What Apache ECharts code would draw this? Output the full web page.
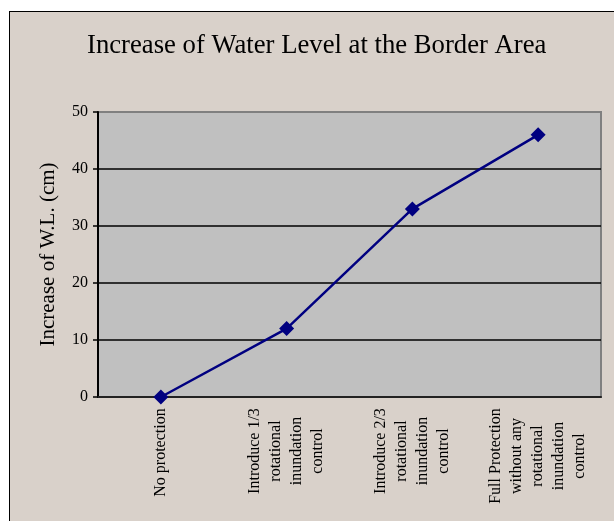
<!DOCTYPE html>
<html>
<head>
<meta charset="utf-8">
<script src="https://cdn.jsdelivr.net/npm/echarts@6/dist/echarts.min.js"></script>
<style>
  html, body { margin: 0; padding: 0; background: #ffffff; }
  #frame { position: absolute; left: 9px; top: 11px; width: 700px; height: 600px; background: #d9d1ca; border: 1px solid #000; }
  #chart { position: absolute; left: 0; top: 0; width: 614px; height: 521px; }
</style>
</head>
<body>
<div id="frame"></div>
<div id="chart"></div>
<script>
const titleText = 'Increase of Water Level at the Border Area';
const yAxisName = 'Increase of W.L. (cm)';
const categories = [
  'No protection',
  'Introduce 1/3\nrotational\ninundation\ncontrol',
  'Introduce 2/3\nrotational\ninundation\ncontrol',
  'Full Protection\nwithout any\nrotational\ninundation\ncontrol'
];
const increaseWL = [0, 12, 33, 46];
const yTicks = [0, 10, 20, 30, 40, 50];

const FONT = "'Liberation Serif', 'Times New Roman', serif";
const cvs = document.createElement('canvas').getContext('2d');
cvs.font = "16px 'Liberation Serif'";
const rich = {};
categories.forEach((c, i) => {
  const w = Math.max(...c.split('\n').map(l => cvs.measureText(l).width));
  rich['c' + i] = { width: Math.ceil(w), align: 'center', fontSize: 16, lineHeight: 21, fontFamily: FONT, color: '#000' };
});

const chart = echarts.init(document.getElementById('chart'), null, { renderer: 'canvas' });
chart.setOption({
  backgroundColor: 'transparent',
  animation: false,
  title: {
    text: titleText,
    left: 82,
    top: 27,
    textStyle: { fontFamily: FONT, fontSize: 26.7, fontWeight: 'normal', color: '#000' }
  },
  grid: {
    left: 98, top: 112, right: 13, bottom: 124,
    show: true, backgroundColor: '#c0c0c0', borderColor: '#808080', borderWidth: 2
  },
  xAxis: {
    type: 'category',
    data: categories,
    boundaryGap: true,
    axisLine: { show: true, lineStyle: { color: '#222', width: 2 } },
    axisTick: { show: false },
    splitLine: { show: false },
    axisLabel: {
      interval: 0,
      rotate: 90,
      margin: 11,
      formatter: (v, i) => v.split('\n').map(l => '{c' + i + '|' + l + '}').join('\n'),
      rich: rich
    }
  },
  yAxis: {
    type: 'value',
    min: yTicks[0],
    max: yTicks[yTicks.length - 1],
    interval: 10,
    name: yAxisName,
    nameLocation: 'middle',
    nameRotate: 90,
    nameGap: 39,
    nameTextStyle: { fontFamily: FONT, fontSize: 21, color: '#000' },
    axisLine: { show: true, lineStyle: { color: '#000', width: 2 } },
    axisTick: { show: true, inside: false, length: 5, lineStyle: { color: '#000', width: 1.5 } },
    axisLabel: { fontFamily: FONT, fontSize: 16, color: '#000', margin: 10 },
    splitLine: { show: true, lineStyle: { color: ['#000', '#000', '#000', '#000', '#000', '#808080'], width: 1.5 } }
  },
  series: [{
    type: 'line',
    data: increaseWL,
    symbol: 'diamond',
    symbolSize: 15,
    lineStyle: { color: '#000080', width: 2.5 },
    itemStyle: { color: '#000080' }
  }]
});
</script>
</body>
</html>
